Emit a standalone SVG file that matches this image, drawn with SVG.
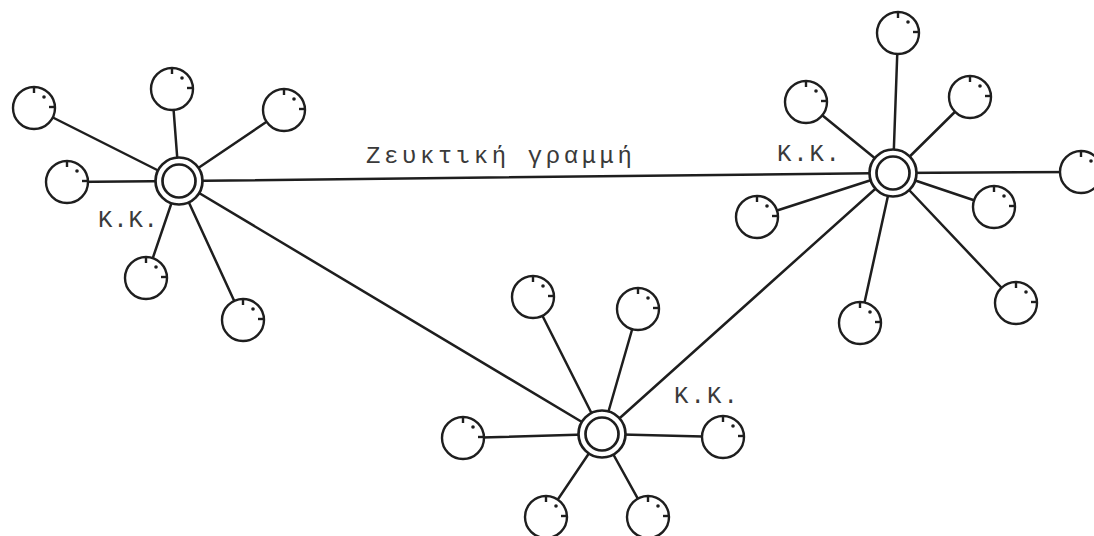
<svg xmlns="http://www.w3.org/2000/svg" xmlns:xlink="http://www.w3.org/1999/xlink" width="1094" height="536" viewBox="0 0 1094 536">
<style>
.ln{stroke:#1e1e1e;stroke-width:2.5;fill:none;stroke-linecap:round}
.ring{stroke:#1e1e1e;stroke-width:2.7;fill:#fff}
.sat{stroke:#1e1e1e;stroke-width:2.4;fill:#fff}
.mk{stroke:#1e1e1e;stroke-width:2.4}
.dt{fill:#1e1e1e}
.lbl{font-family:"Liberation Mono","DejaVu Sans Mono",monospace;font-size:24px;fill:#3a3a3a}
</style>
<defs>
<g id="satellite">
<circle class="sat" r="21"/>
<line class="mk" x1="0" y1="-21" x2="0" y2="-15"/>
<circle class="dt" cx="10" cy="-11" r="1.8"/>
<line class="mk" x1="15" y1="-1" x2="21" y2="-1"/>
</g>
<g id="hub">
<circle class="ring" r="23.5"/>
<circle class="ring" r="16.5"/>
</g>
</defs>
<rect width="1094" height="536" fill="#fff"/>
<g id="connectors">
<line class="ln" x1="179" y1="181" x2="893" y2="173"/>
<line class="ln" x1="179" y1="181" x2="602" y2="434"/>
<line class="ln" x1="893" y1="173" x2="602" y2="434"/>
<line class="ln" x1="179" y1="181" x2="34" y2="108"/>
<line class="ln" x1="179" y1="181" x2="172" y2="89"/>
<line class="ln" x1="179" y1="181" x2="284" y2="110"/>
<line class="ln" x1="179" y1="181" x2="67" y2="182"/>
<line class="ln" x1="179" y1="181" x2="146" y2="278"/>
<line class="ln" x1="179" y1="181" x2="243" y2="320"/>
<line class="ln" x1="893" y1="173" x2="898" y2="33"/>
<line class="ln" x1="893" y1="173" x2="806" y2="102"/>
<line class="ln" x1="893" y1="173" x2="970" y2="97"/>
<line class="ln" x1="893" y1="173" x2="1081" y2="172"/>
<line class="ln" x1="893" y1="173" x2="757" y2="217"/>
<line class="ln" x1="893" y1="173" x2="994" y2="207"/>
<line class="ln" x1="893" y1="173" x2="860" y2="323"/>
<line class="ln" x1="893" y1="173" x2="1016" y2="303"/>
<line class="ln" x1="602" y1="434" x2="533" y2="297"/>
<line class="ln" x1="602" y1="434" x2="638" y2="309"/>
<line class="ln" x1="602" y1="434" x2="463" y2="438"/>
<line class="ln" x1="602" y1="434" x2="723" y2="437"/>
<line class="ln" x1="602" y1="434" x2="546" y2="517"/>
<line class="ln" x1="602" y1="434" x2="648" y2="517"/>
</g>
<g id="hub-left"><use xlink:href="#hub" x="179" y="181"/></g>
<g id="hub-right"><use xlink:href="#hub" x="893" y="173"/></g>
<g id="hub-bottom"><use xlink:href="#hub" x="602" y="434"/></g>
<g id="left-satellites">
<use xlink:href="#satellite" x="34" y="108"/>
<use xlink:href="#satellite" x="172" y="89"/>
<use xlink:href="#satellite" x="284" y="110"/>
<use xlink:href="#satellite" x="67" y="182"/>
<use xlink:href="#satellite" x="146" y="278"/>
<use xlink:href="#satellite" x="243" y="320"/>
</g>
<g id="right-satellites">
<use xlink:href="#satellite" x="898" y="33"/>
<use xlink:href="#satellite" x="806" y="102"/>
<use xlink:href="#satellite" x="970" y="97"/>
<use xlink:href="#satellite" x="1081" y="172"/>
<use xlink:href="#satellite" x="757" y="217"/>
<use xlink:href="#satellite" x="994" y="207"/>
<use xlink:href="#satellite" x="860" y="323"/>
<use xlink:href="#satellite" x="1016" y="303"/>
</g>
<g id="bottom-satellites">
<use xlink:href="#satellite" x="533" y="297"/>
<use xlink:href="#satellite" x="638" y="309"/>
<use xlink:href="#satellite" x="463" y="438"/>
<use xlink:href="#satellite" x="723" y="437"/>
<use xlink:href="#satellite" x="546" y="517"/>
<use xlink:href="#satellite" x="648" y="517"/>
</g>
<g id="labels">
<text class="lbl" x="366" y="163" textLength="266" lengthAdjust="spacing">Ζευκτική γραμμή</text>
<text class="lbl" x="98" y="227" textLength="60" lengthAdjust="spacing">Κ.Κ.</text>
<text class="lbl" x="777" y="161" textLength="63" lengthAdjust="spacing">Κ.Κ.</text>
<text class="lbl" x="674" y="403" textLength="64" lengthAdjust="spacing">Κ.Κ.</text>
</g>
</svg>
